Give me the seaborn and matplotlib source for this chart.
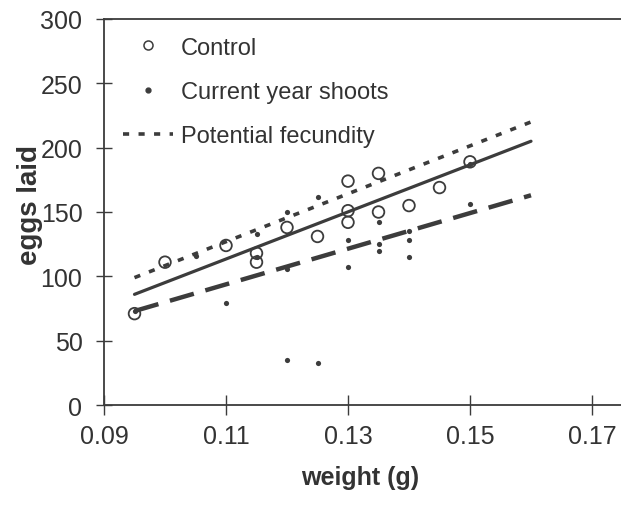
import numpy as np
import pandas as pd
import seaborn as sns
import matplotlib.pyplot as plt
from matplotlib.lines import Line2D

# Control (open circles)
ctrl_w = [0.095, 0.10, 0.11, 0.115, 0.115, 0.12, 0.125, 0.13, 0.13, 0.13,
          0.135, 0.135, 0.14, 0.145, 0.15]
ctrl_eggs = [71, 111, 124, 118, 111, 138, 131, 174, 151, 142,
             180, 150, 155, 169, 189]

# Current year shoots (small dots)
shoot_w = [0.095, 0.105, 0.11, 0.115, 0.115, 0.12, 0.12, 0.12, 0.125, 0.125,
           0.13, 0.13, 0.135, 0.135, 0.135, 0.14, 0.14, 0.14, 0.15, 0.15]
shoot_eggs = [73, 116, 79, 133, 115, 150, 106, 35, 162, 33,
              128, 107, 142, 125, 120, 135, 128, 115, 156, 187]

# fitted lines (end points)
fit_w = [0.095, 0.16]
ctrl_fit = [86, 205]
shoot_fit = [73, 163]
potential_fit = [99, 220]

x_ticks = [0.09, 0.11, 0.13, 0.15, 0.17]
y_ticks = [0, 50, 100, 150, 200, 250, 300]

sns.set_style('white')
plt.rcParams['font.family'] = ['Liberation Sans', 'DejaVu Sans']

ink = '#3c3c3c'
txt = '#333333'

fig = plt.figure(figsize=(6.21, 5.06), dpi=100)
ax = fig.add_axes([104 / 621, 1 - 406 / 506, 1 - 104 / 621, 386 / 506])

# regression lines
sns.lineplot(x=fit_w, y=ctrl_fit, color=ink, lw=2.3, ax=ax)
sns.lineplot(x=fit_w, y=shoot_fit, color=ink, lw=3.2, ax=ax).lines[-1].set_dashes([5.6, 2.7])
sns.lineplot(x=fit_w, y=potential_fit, color=ink, lw=2.6, ax=ax).lines[-1].set_dashes([1.7, 2.6])

# points
sns.scatterplot(x=ctrl_w, y=ctrl_eggs, marker='o', s=70, facecolor='none',
                edgecolor=ink, linewidth=1.3, ax=ax, zorder=3)
sns.scatterplot(x=shoot_w, y=shoot_eggs, marker='o', s=14, color=ink,
                edgecolor=ink, linewidth=0, ax=ax, zorder=3)

ax.set_xlim(0.09, 0.09 + 517 / 6100)
ax.set_ylim(0, 300)
ax.set_xticks(x_ticks)
ax.set_xticklabels([f'{t:.2f}' for t in x_ticks])
ax.set_yticks(y_ticks)

for s in ['left', 'bottom', 'top']:
    ax.spines[s].set_visible(True)
    ax.spines[s].set_color(ink)
    ax.spines[s].set_linewidth(1.3)
ax.spines['right'].set_visible(False)

ax.tick_params(axis='y', direction='inout', length=11, width=1, color=ink,
               labelsize=18, labelcolor=txt, pad=10, left=True)
ax.tick_params(axis='x', direction='inout', length=15, width=1, color=ink,
               labelsize=18, labelcolor=txt, pad=6, bottom=True)

ax.set_xlabel('weight (g)', fontsize=18, fontweight='bold', color=txt, va='center')
ax.xaxis.set_label_coords(0.495, -0.186)
ax.set_ylabel('eggs laid', fontsize=20, fontweight='bold', color=txt, va='center')
ax.yaxis.set_label_coords(-0.143, 0.52)

handles = [
    Line2D([], [], ls='none', marker='o', ms=6.5, mfc='none', mec=ink, mew=1.1),
    Line2D([], [], ls='none', marker='o', ms=3.5, mfc=ink, mec=ink),
    Line2D([], [], color=ink, lw=2.6, dashes=[1.7, 2.6]),
]
labels = ['Control', 'Current year shoots', 'Potential fecundity']
ax.legend(handles, labels, loc='upper left', bbox_to_anchor=(0.0145, 0.985),
          frameon=False, fontsize=17, handlelength=2.1, handletextpad=0.35,
          labelspacing=0.95, borderpad=0, labelcolor=txt)

fig.savefig('out.png', dpi=100)
